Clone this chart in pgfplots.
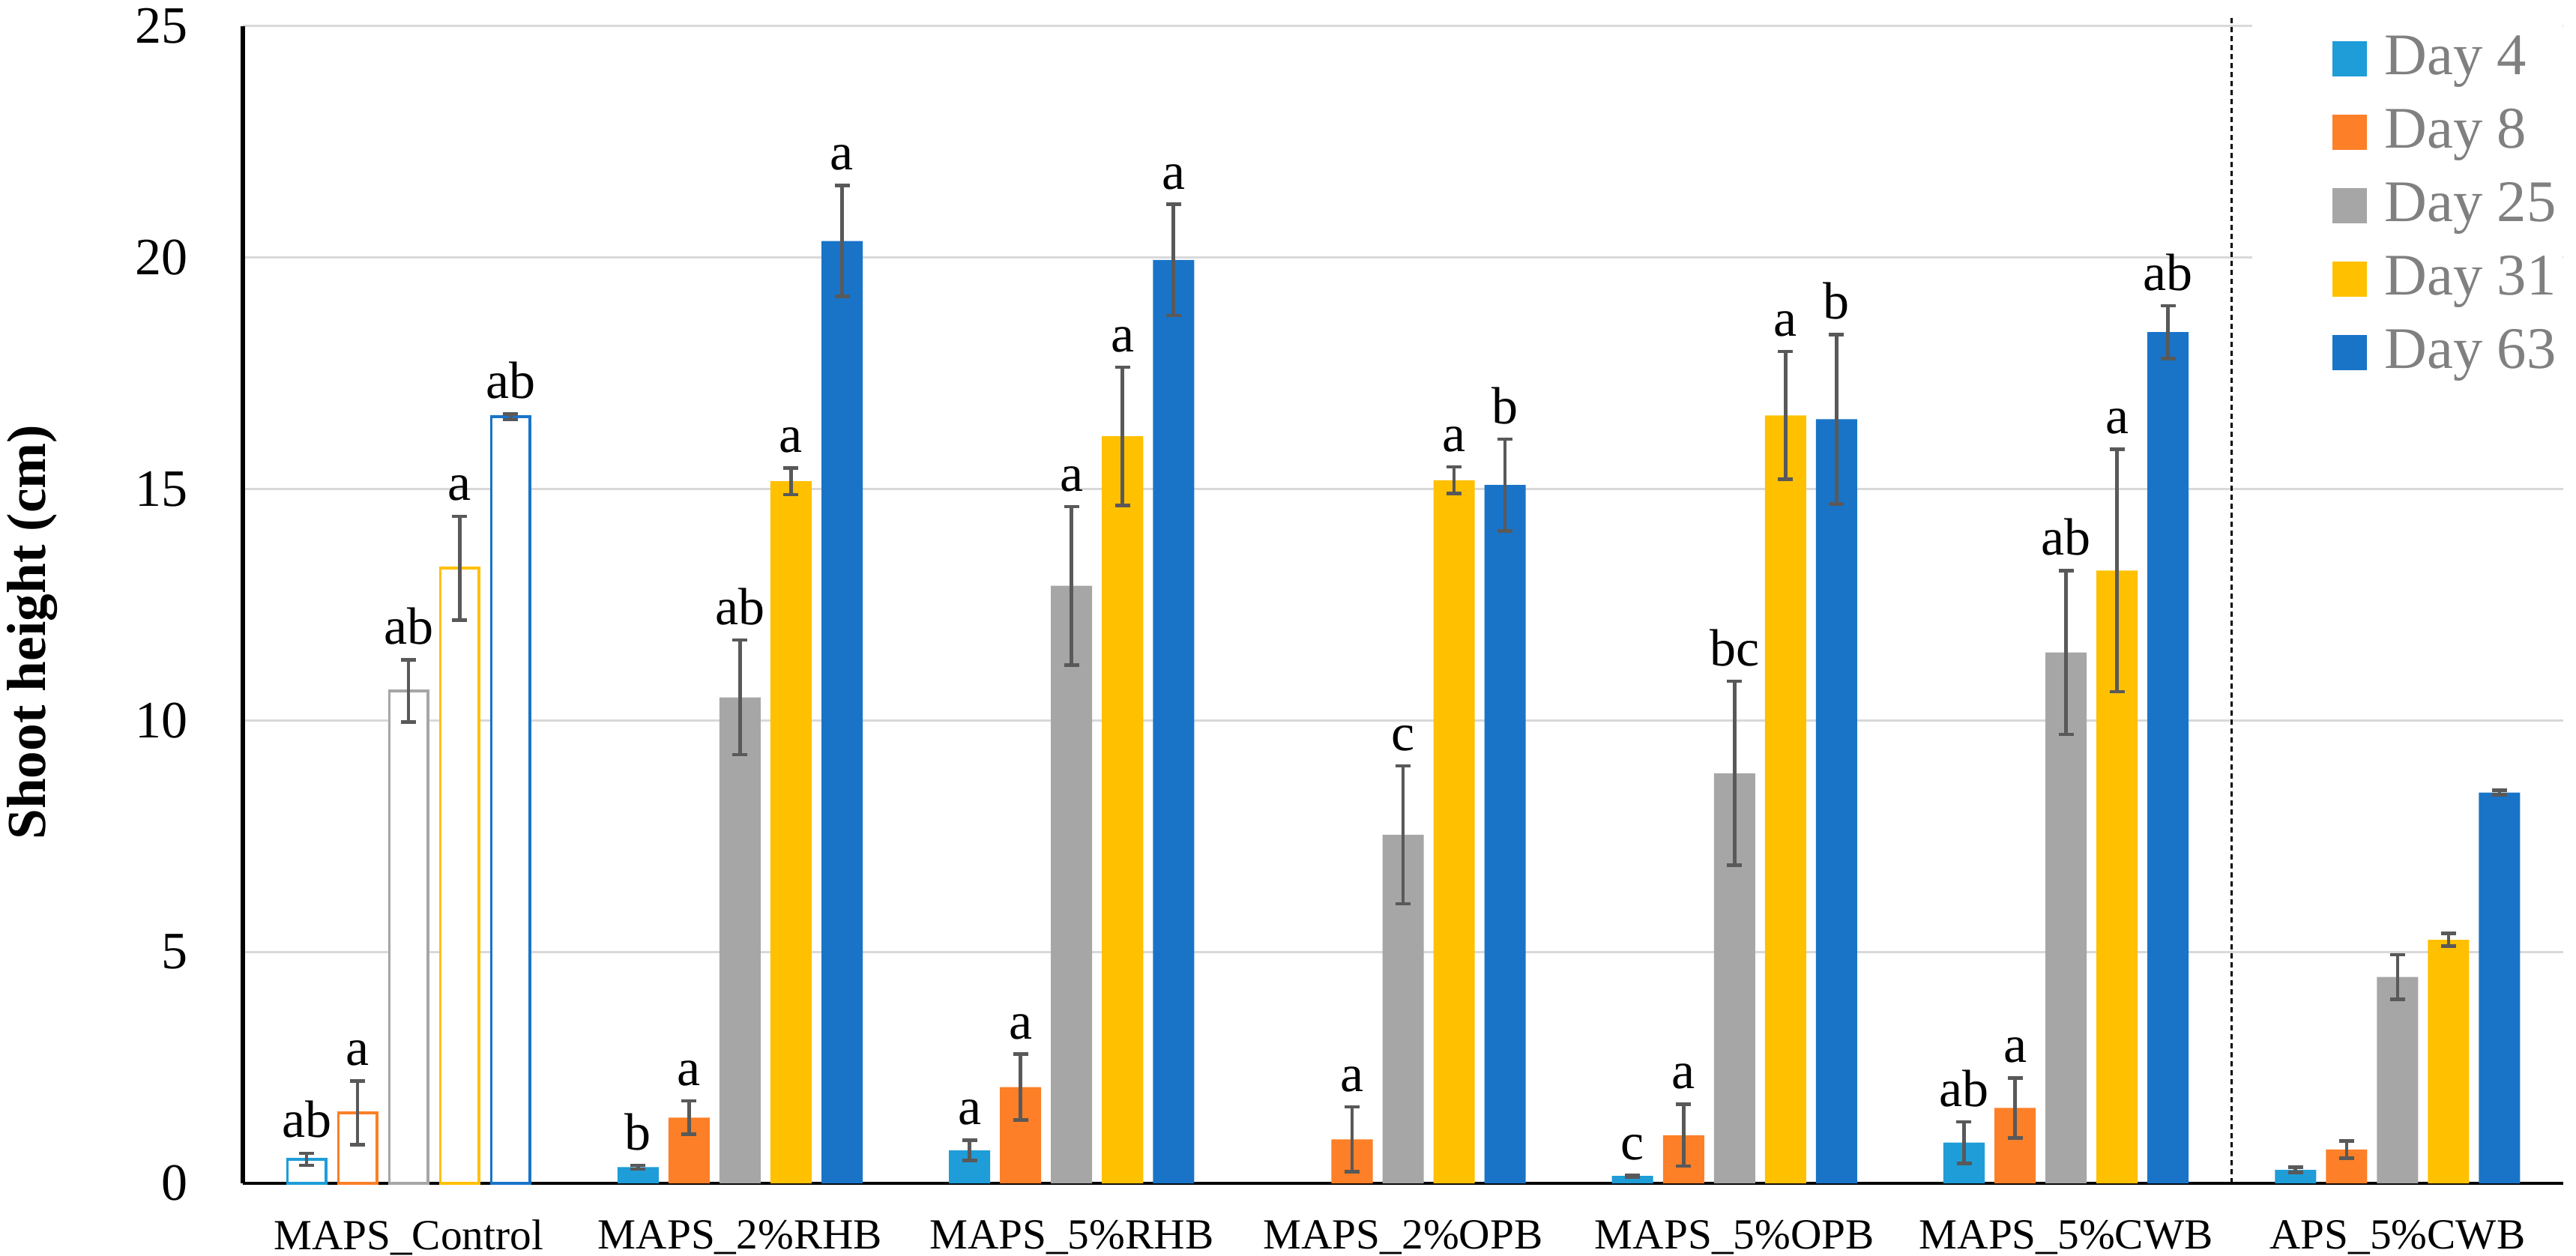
\documentclass[border=0pt]{standalone}
\usepackage{fontspec}
\setmainfont{Liberation Serif}
\usepackage{pgfplots}
\usepackage{pgfplotstable}
\pgfplotsset{compat=1.18}
\definecolor{c4}{RGB}{30,157,217}
\definecolor{c8}{RGB}{253,127,39}
\definecolor{c25}{RGB}{166,166,166}
\definecolor{c31}{RGB}{255,192,0}
\definecolor{c63}{RGB}{25,116,200}
\definecolor{gridc}{RGB}{217,217,217}
\definecolor{errc}{RGB}{89,89,89}
\definecolor{legc}{RGB}{128,128,128}

\pgfplotstableread{
x y err lab
0 0.52 0.13 ab
1 0.35 0.04 b
2 0.71 0.22 a
4 0.16 0.02 c
5 0.88 0.45 ab
6 0.29 0.06 {}
}\dayfour
\pgfplotstableread{
x y err lab
0 1.52 0.69 a
1 1.42 0.36 a
2 2.08 0.71 a
3 0.95 0.70 a
4 1.04 0.67 a
5 1.63 0.65 a
6 0.73 0.19 {}
}\dayeight
\pgfplotstableread{
x y err lab
0 10.64 0.67 ab
1 10.50 1.24 ab
2 12.91 1.71 a
3 7.53 1.49 c
4 8.86 1.99 bc
5 11.47 1.77 ab
6 4.46 0.48 {}
}\daytwentyfive
\pgfplotstableread{
x y err lab
0 13.29 1.12 a
1 15.17 0.29 a
2 16.14 1.49 a
3 15.19 0.29 a
4 16.59 1.38 a
5 13.24 2.62 a
6 5.26 0.14 {}
}\daythirtyone
\pgfplotstableread{
x y err lab
0 16.56 0.06 ab
1 20.36 1.20 a
2 19.95 1.20 a
3 15.09 0.99 b
4 16.51 1.83 b
5 18.39 0.57 ab
6 8.44 0.05 {}
}\daysixtythree

\pgfplotsset{
  daybar/.style={fill=#1, draw=none, bar width=0.1244,
    restrict x to domain=0.5:6.5,
    legend image code/.code={\path[fill=none,draw=none] (-14.85pt,-7.35pt) rectangle (10.45pt,7.35pt); \fill[#1] (0pt,-3.5pt) rectangle (7pt,3.5pt);}},
  ctrlbar/.style={fill=white, draw=#1, line width=0.55pt, bar width=0.116,
    restrict x to domain=-0.5:0.5, forget plot},
}

\begin{document}
\begin{tikzpicture}
\begin{axis}[
  name=ax,
  scale only axis,
  width=464.4pt, height=231.6pt,
  xmin=-0.5, xmax=6.5, ymin=0, ymax=25,
  ytick={0,5,10,15,20,25},
  xtick={0,1,2,3,4,5,6},
  xticklabels={MAPS\_Control, MAPS\_2\%RHB, MAPS\_5\%RHB, MAPS\_2\%OPB, MAPS\_5\%OPB, MAPS\_5\%CWB, APS\_5\%CWB},
  axis x line*=bottom, axis y line*=left,
  x axis line style={-, line width=0.6pt, black},
  y axis line style={-, line width=0.8pt, black},
  tick style={draw=none},
  ymajorgrids, major grid style={draw=gridc, line width=0.45pt},
  ybar,
  clip=false,
  /pgf/number format/assume math mode=true,
  yticklabel style={font=\fontsize{10.5}{12}\selectfont, inner sep=0pt, anchor=east, xshift=-10.8pt},
  xticklabel style={font=\fontsize{8.6}{10}\selectfont, inner sep=0pt, anchor=north, yshift=-2.9pt},
  ylabel={\bfseries Shoot height (cm)},
  ylabel style={font=\fontsize{11}{12}\selectfont, at={([xshift=-42.15pt,yshift=-5.5pt]axis description cs:0,0.5)}, anchor=center},
  error bars/y dir=both, error bars/y explicit,
  error bars/error bar style={line width=0.7pt, errc},
  error bars/error mark options={rotate=90, line width=0.7pt, errc, mark size=1.5pt},
  visualization depends on={\thisrow{err} \as \myerr},
  point meta=explicit symbolic,
  nodes near coords,
  nodes near coords style={font=\fontsize{10.5}{12}\selectfont, text=black, inner sep=0pt, anchor=south, shift={(axis direction cs:0,\myerr)}, yshift=2.8pt},
  legend style={draw=none, fill=white, at={(1,1)}, anchor=north east, yshift=2pt, inner xsep=1.2pt, inner ysep=1pt, row sep=0pt, font=\fontsize{11.8}{13}\selectfont, text=legc, nodes={inner sep=0pt}},
  legend cell align=left,
]
\addplot[daybar=c4, bar shift=-0.3077] table[x=x, y=y, y error=err, meta=lab] \dayfour;
\addlegendentry{Day 4}
\addplot[daybar=c8, bar shift=-0.1538] table[x=x, y=y, y error=err, meta=lab] \dayeight;
\addlegendentry{Day 8}
\addplot[daybar=c25, bar shift=0] table[x=x, y=y, y error=err, meta=lab] \daytwentyfive;
\addlegendentry{Day 25}
\addplot[daybar=c31, bar shift=0.1538] table[x=x, y=y, y error=err, meta=lab] \daythirtyone;
\addlegendentry{Day 31}
\addplot[daybar=c63, bar shift=0.3077] table[x=x, y=y, y error=err, meta=lab] \daysixtythree;
\addlegendentry{Day 63}
\addplot[ctrlbar=c4, bar shift=-0.3077] table[x=x, y=y, y error=err, meta=lab] \dayfour;
\addplot[ctrlbar=c8, bar shift=-0.1538] table[x=x, y=y, y error=err, meta=lab] \dayeight;
\addplot[ctrlbar=c25, bar shift=0] table[x=x, y=y, y error=err, meta=lab] \daytwentyfive;
\addplot[ctrlbar=c31, bar shift=0.1538] table[x=x, y=y, y error=err, meta=lab] \daythirtyone;
\addplot[ctrlbar=c63, bar shift=0.3077] table[x=x, y=y, y error=err, meta=lab] \daysixtythree;
\draw[black, line width=0.45pt, dash pattern=on 1pt off 0.8pt] (axis cs:5.5,0) -- ([yshift=1.8pt]axis cs:5.5,25);
\end{axis}
\pgfresetboundingbox
\path[use as bounding box] ([xshift=-48.6pt,yshift=-14.4pt]ax.south west) rectangle ([xshift=2.55pt,yshift=5.25pt]ax.north east);
\end{tikzpicture}
\end{document}
